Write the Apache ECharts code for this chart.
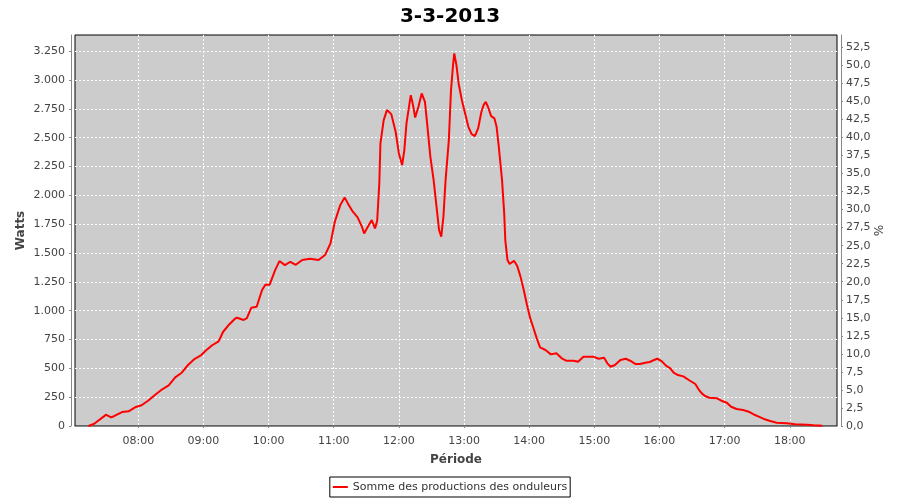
<!DOCTYPE html>
<html>
<head>
<meta charset="utf-8">
<script src="https://cdn.jsdelivr.net/npm/echarts@6/dist/echarts.min.js"></script>
<style>html,body{margin:0;padding:0;background:#fff}#c{width:900px;height:500px}</style>
</head>
<body>
<div id="c"></div>
<script>
const title = '3-3-2013';
const seriesName = 'Somme des productions des onduleurs';
const times = ['07:14','07:19','07:23','07:28','07:30','07:35','07:38','07:45','07:51','07:57','08:03','08:09','08:15','08:22','08:28','08:34','08:40','08:46','08:52','08:58','09:02','09:08','09:14','09:18','09:23','09:29','09:31','09:37','09:40','09:44','09:49','09:54','09:57','10:01','10:06','10:10','10:15','10:20','10:25','10:31','10:38','10:46','10:52','10:57','11:01','11:06','11:10','11:13','11:17','11:22','11:26','11:28','11:31','11:35','11:38','11:40','11:42','11:43','11:46','11:49','11:53','11:57','12:00','12:03','12:05','12:07','12:10','12:11','12:13','12:15','12:18','12:21','12:24','12:26','12:29','12:32','12:35','12:37','12:39','12:41','12:43','12:46','12:48','12:50','12:51','12:53','12:55','12:58','13:01','13:04','13:07','13:10','13:13','13:16','13:18','13:20','13:22','13:25','13:28','13:30','13:32','13:35','13:37','13:38','13:40','13:42','13:46','13:49','13:52','13:55','13:58','14:01','14:04','14:07','14:10','14:15','14:20','14:25','14:30','14:34','14:41','14:45','14:50','14:54','14:59','15:04','15:09','15:12','15:15','15:19','15:24','15:29','15:33','15:38','15:42','15:47','15:51','15:55','15:58','16:02','16:06','16:10','16:13','16:17','16:22','16:27','16:33','16:36','16:39','16:42','16:46','16:53','16:57','17:02','17:06','17:11','17:17','17:23','17:28','17:33','17:37','17:42','17:48','17:57','18:05','18:16','18:22','18:30'];
const watts = [0,17,46,81,98,75,87,121,127,162,180,219,266,318,353,422,462,531,583,615,653,700,734,815,873,930,939,919,936,1025,1034,1179,1225,1225,1352,1430,1395,1424,1398,1439,1450,1439,1482,1583,1771,1915,1982,1930,1866,1809,1727,1670,1720,1785,1713,1780,2110,2450,2652,2739,2704,2551,2363,2262,2392,2623,2811,2869,2782,2675,2768,2884,2811,2623,2334,2132,1872,1699,1641,1814,2132,2479,2912,3143,3230,3129,2970,2825,2710,2594,2531,2513,2580,2724,2782,2811,2768,2687,2667,2594,2421,2132,1843,1612,1439,1404,1433,1387,1295,1179,1049,933,847,760,682,659,621,630,587,566,566,557,601,601,601,583,592,543,514,529,572,583,566,537,537,549,555,572,583,563,523,500,462,442,430,399,364,318,283,260,245,240,219,202,167,147,139,121,95,75,58,43,29,23,15,11,6,3];
const hourTicks = ['08:00','09:00','10:00','11:00','12:00','13:00','14:00','15:00','16:00','17:00','18:00'];
const wattsAxis = {min: 0, max: 3390, step: 250};
const pctAxis = {min: 0, max: 54.2, step: 2.5};
const xRange = ['07:01.7', '18:43.5'];

function toMin(s) { const p = s.split(':'); return (+p[0]) * 60 + parseFloat(p[1]); }
function fmtHM(v) { const h = Math.floor(v / 60), m = Math.round(v - h * 60); return (h < 10 ? '0' : '') + h + ':' + (m < 10 ? '0' : '') + m; }
function fmtThousands(v) { return String(Math.round(v)).replace(/\B(?=(\d{3})+(?!\d))/g, '.'); }

const data = times.map((t, i) => [toMin(t), watts[i]]);
const tickVals = hourTicks.map(toMin);
const FONT = 'DejaVu Sans';
const chart = echarts.init(document.getElementById('c'), null, {renderer: 'canvas'});
chart.setOption({
  animation: false,
  backgroundColor: '#ffffff',
  title: {text: title, left: 'center', top: 2, textStyle: {fontFamily: FONT, fontSize: 20, fontWeight: 'bold', color: '#000'}},
  grid: {left: 75, right: 63, top: 35, bottom: 74, show: true, backgroundColor: '#cccccc', borderColor: '#000', borderWidth: 1},
  legend: {
    data: [seriesName], top: 477, left: 'center', icon: 'rect', itemWidth: 15, itemHeight: 2,
    borderColor: '#000', borderWidth: 1, padding: [4, 3, 4, 3],
    textStyle: {fontFamily: FONT, fontSize: 11, color: '#333', lineHeight: 12}
  },
  xAxis: {
    type: 'value', min: toMin(xRange[0]), max: toMin(xRange[1]), offset: 4,
    name: 'Période', nameLocation: 'middle', nameGap: 24, nameMoveOverlap: false,
    nameTextStyle: {fontFamily: FONT, fontSize: 12, fontWeight: 'bold', color: '#444'},
    axisLine: {show: true, lineStyle: {color: '#888', width: 1}},
    axisTick: {show: true, length: 2, customValues: tickVals, lineStyle: {color: '#888'}},
    axisLabel: {customValues: tickVals, formatter: v => fmtHM(v), fontFamily: FONT, fontSize: 11, color: '#444', margin: 6},
    splitLine: {show: true, lineStyle: {color: '#ffffff', type: [2, 2], width: 1}}
  },
  yAxis: [{
    type: 'value', position: 'left', min: wattsAxis.min, max: wattsAxis.max, interval: wattsAxis.step, offset: 4,
    name: 'Watts', nameLocation: 'middle', nameGap: 44, nameRotate: 90, nameMoveOverlap: false,
    nameTextStyle: {fontFamily: FONT, fontSize: 12, fontWeight: 'bold', color: '#444'},
    axisLine: {show: true, lineStyle: {color: '#888', width: 1}},
    axisTick: {show: true, length: 2, lineStyle: {color: '#888'}},
    axisLabel: {showMaxLabel: false, formatter: v => (v % wattsAxis.step === 0 ? fmtThousands(v) : ''), fontFamily: FONT, fontSize: 11, color: '#444', margin: 6},
    splitLine: {show: true, showMinLine: false, showMaxLine: false, lineStyle: {color: '#ffffff', type: [2, 2], width: 1}}
  }, {
    type: 'value', position: 'right', min: pctAxis.min, max: pctAxis.max, interval: pctAxis.step, offset: 4,
    name: '%', nameLocation: 'middle', nameGap: 30, nameRotate: -90, nameMoveOverlap: false,
    nameTextStyle: {fontFamily: FONT, fontSize: 12, color: '#444'},
    axisLine: {show: true, lineStyle: {color: '#888', width: 1}},
    axisTick: {show: true, length: 2, lineStyle: {color: '#888'}},
    axisLabel: {showMaxLabel: false, formatter: v => (Math.abs(v / pctAxis.step - Math.round(v / pctAxis.step)) < 1e-6 ? v.toFixed(1).replace('.', ',') : ''), fontFamily: FONT, fontSize: 11, color: '#444', margin: 5},
    splitLine: {show: false}
  }],
  series: [{
    name: seriesName, type: 'line', yAxisIndex: 0, data: data, showSymbol: false, symbol: 'none',
    lineStyle: {color: '#ff0000', width: 2}, itemStyle: {color: '#ff0000'}
  }]
});
</script>
</body>
</html>
